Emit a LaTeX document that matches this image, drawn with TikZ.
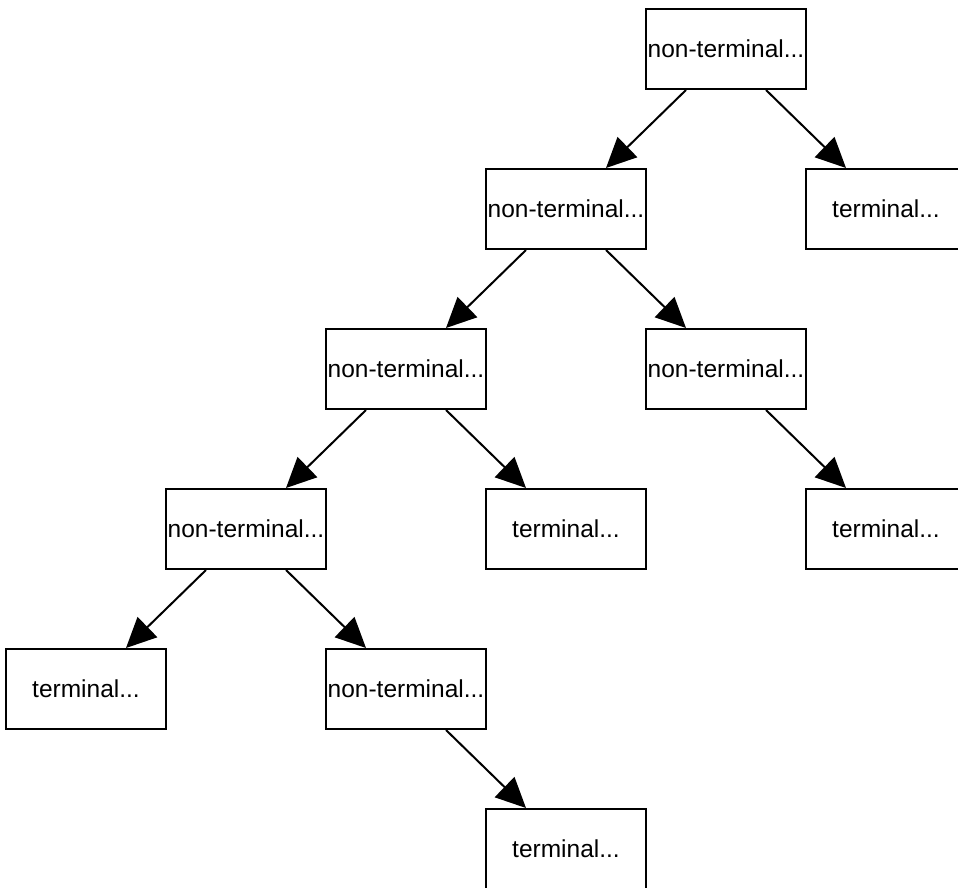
\documentclass[tikz,border=0pt]{standalone}
\usepackage{fontspec}
\setmainfont{Liberation Sans}
\usetikzlibrary{arrows.meta}
\begin{document}
\begin{tikzpicture}[x=1pt,y=-1pt,
  treebox/.style={draw=black,line width=2pt,fill=white,minimum width=160pt,
    minimum height=80pt,inner sep=0pt,font=\fontsize{24.5pt}{28pt}\selectfont},
  branch/.style={draw=black,line width=2pt,
    -{Triangle[length=30pt,width=28pt]}}]
  \useasboundingbox (0,0) rectangle (958,888);
  \clip (0,0) rectangle (958,888);
  \fill[white] (0,0) rectangle (958,888);
  % nodes, placed by centre
  \node[treebox] (root) at (726,49)  {non-terminal...};
  \node[treebox] (t1)   at (886,209) {terminal...};
  \node[treebox] (n1)   at (566,209) {non-terminal...};
  \node[treebox] (n2)   at (406,369) {non-terminal...};
  \node[treebox] (n3)   at (726,369) {non-terminal...};
  \node[treebox] (n4)   at (246,529) {non-terminal...};
  \node[treebox] (t2)   at (566,529) {terminal...};
  \node[treebox] (t3)   at (886,529) {terminal...};
  \node[treebox] (t4)   at (86,689)  {terminal...};
  \node[treebox] (n5)   at (406,689) {non-terminal...};
  \node[treebox] (t5)   at (566,849) {terminal...};
  % edges: left child from the left side of the parent, right child from the right side
  \draw[branch] ([xshift=-40pt]root.south) -- ([xshift=40pt]n1.north);
  \draw[branch] ([xshift=40pt]root.south)  -- ([xshift=-40pt]t1.north);
  \draw[branch] ([xshift=-40pt]n1.south)   -- ([xshift=40pt]n2.north);
  \draw[branch] ([xshift=40pt]n1.south)    -- ([xshift=-40pt]n3.north);
  \draw[branch] ([xshift=-40pt]n2.south)   -- ([xshift=40pt]n4.north);
  \draw[branch] ([xshift=40pt]n2.south)    -- ([xshift=-40pt]t2.north);
  \draw[branch] ([xshift=40pt]n3.south)    -- ([xshift=-40pt]t3.north);
  \draw[branch] ([xshift=-40pt]n4.south)   -- ([xshift=40pt]t4.north);
  \draw[branch] ([xshift=40pt]n4.south)    -- ([xshift=-40pt]n5.north);
  \draw[branch] ([xshift=40pt]n5.south)    -- ([xshift=-40pt]t5.north);
\end{tikzpicture}
\end{document}
